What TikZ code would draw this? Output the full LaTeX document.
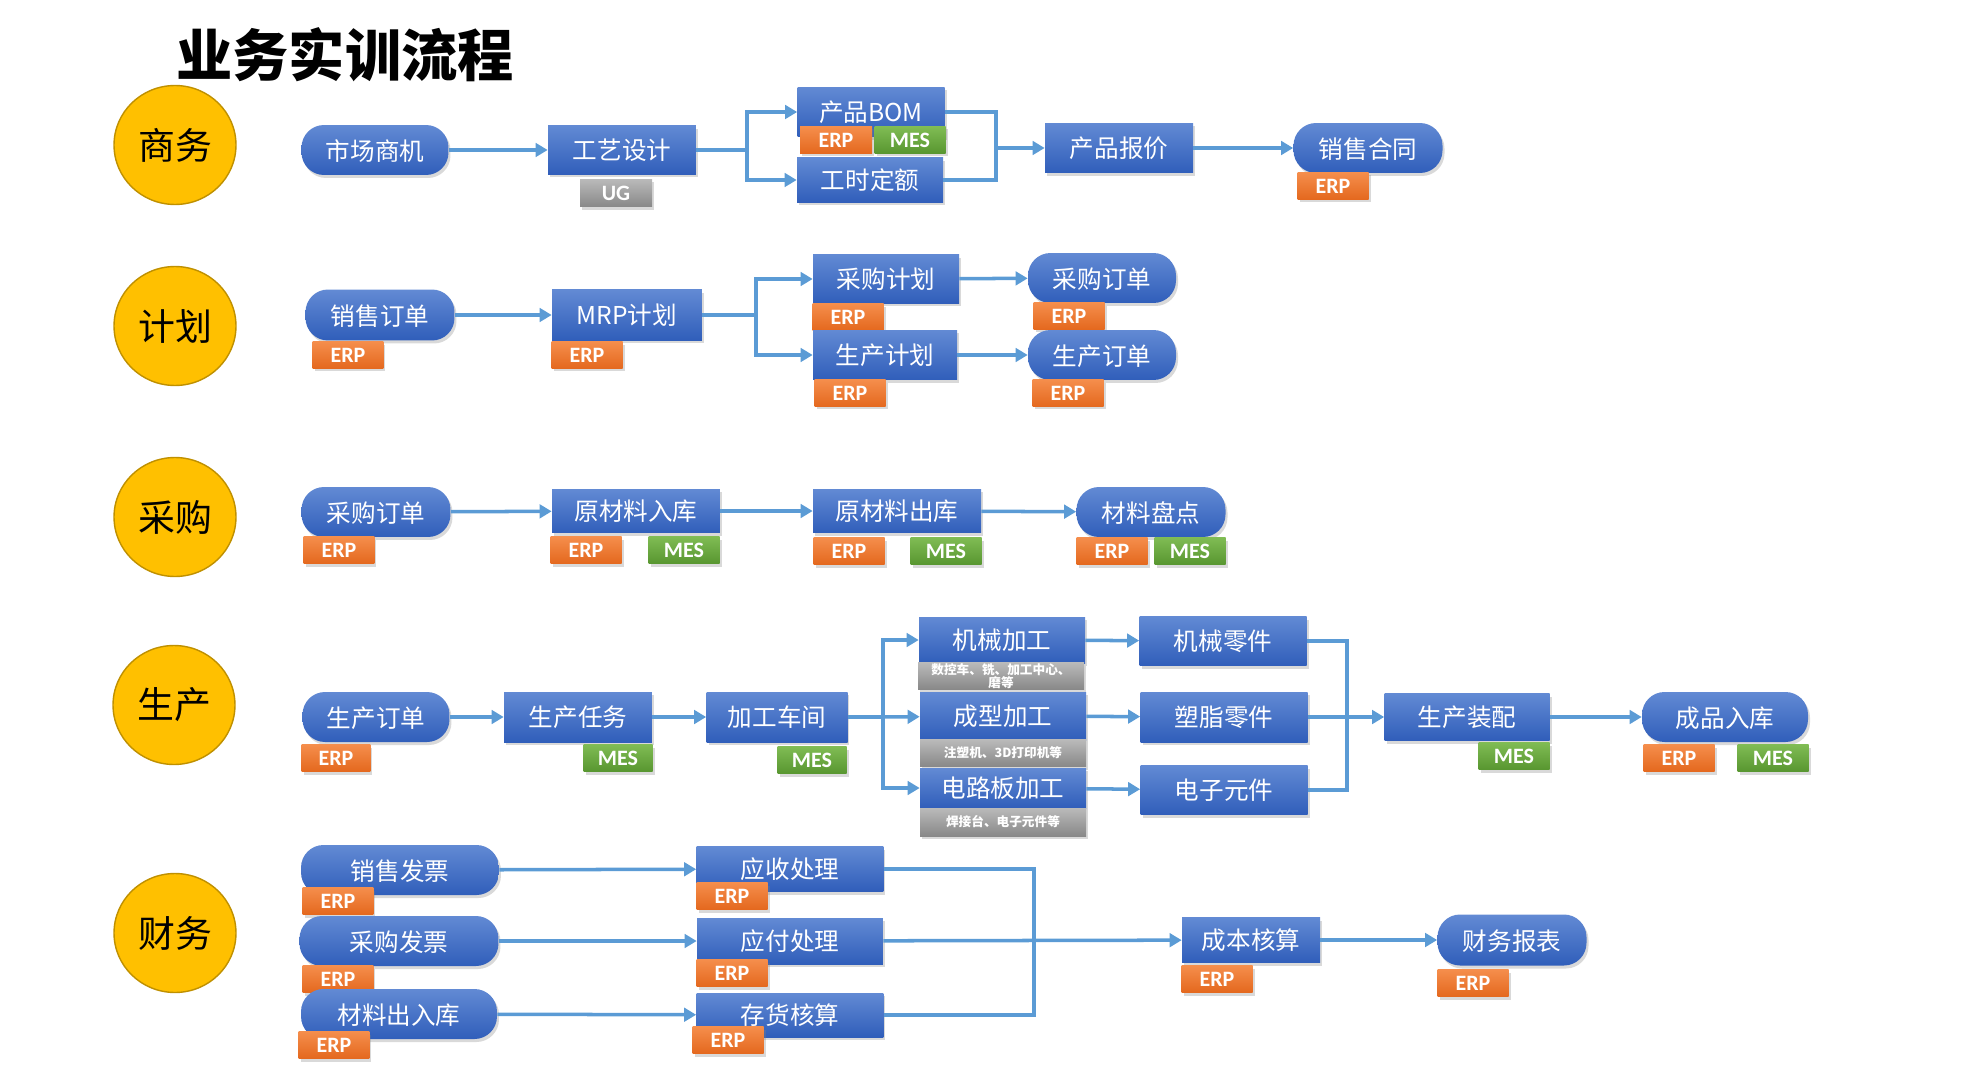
\documentclass[tikz,border=0pt]{standalone}
\usepackage{fontspec}
\usepackage{xcolor}
\usepackage{tikz}
\usetikzlibrary{positioning, arrows.meta, shapes.geometric, shadows}

\newfontfamily\cjk{Noto Sans CJK SC}
\newfontfamily\tagfont{Carlito}

\definecolor{boxtop}{RGB}{98,138,212}
\definecolor{boxbot}{RGB}{48,94,186}
\definecolor{erptop}{RGB}{245,142,76}
\definecolor{erpbot}{RGB}{228,104,30}
\definecolor{mestop}{RGB}{128,188,84}
\definecolor{mesbot}{RGB}{88,150,48}
\definecolor{graytop}{RGB}{186,186,186}
\definecolor{graybot}{RGB}{136,136,136}
\definecolor{flowblue}{RGB}{91,155,213}
\definecolor{gold}{RGB}{255,192,0}
\definecolor{golddark}{RGB}{191,144,0}

\begin{document}
\begin{tikzpicture}[
    x=0.02cm, y=-0.02cm,
    softshadow/.style={drop shadow={opacity=0.3, shadow xshift=0.04cm, shadow yshift=-0.06cm}},
    domainnode/.style={ellipse, fill=gold, draw=golddark, line width=0.8pt, minimum width=2.44cm, minimum height=2.38cm, inner sep=0pt, font=\cjk\fontsize{21}{24}\selectfont},
    stepbox/.style={rectangle, top color=boxtop, bottom color=boxbot, draw=none, text=white, minimum width=2.96cm, minimum height=0.98cm, inner sep=0pt, font=\cjk\fontsize{14}{16}\selectfont, softshadow},
    pillbox/.style={stepbox, rounded corners=0.45cm, minimum height=1.0cm, text height=1.2em, text depth=0.04em},
    tagbox/.style={rectangle, draw=none, text=white, minimum width=1.42cm, minimum height=0.54cm, inner sep=0pt, font=\tagfont\bfseries\fontsize{12.5}{13}\selectfont, softshadow},
    erptag/.style={tagbox, top color=erptop, bottom color=erpbot},
    mestag/.style={tagbox, top color=mestop, bottom color=mesbot},
    ugtag/.style={tagbox, top color=graytop, bottom color=graybot, minimum width=1.44cm, minimum height=0.56cm},
    notetag/.style={rectangle, top color=graytop, bottom color=graybot, draw=none, text=white, minimum width=3.32cm, minimum height=0.54cm, inner sep=0pt, align=center, font=\cjk\bfseries\fontsize{7.2}{7.6}\selectfont, softshadow},
    flowline/.style={draw=flowblue, line width=2pt},
    flowarrow/.style={flowline, -{Triangle[length=0.24cm, width=0.27cm]}},
    titletext/.style={font=\cjk\bfseries\fontsize{32}{36}\selectfont}
]
\useasboundingbox (0,0) rectangle (1986,1084);

% Title
\node[titletext] (title) at (345,55) {业务实训流程};

% Domain circles
\node[domainnode] (dom1) at (175,145) {商务};
\node[domainnode] (dom2) at (175,326) {计划};
\node[domainnode] (dom3) at (175,517) {采购};
\node[domainnode] (dom4) at (174,705) {生产};
\node[domainnode] (dom5) at (175,933) {财务};

% Row 1: business
\node[pillbox, minimum width=2.94cm] (scsj) at (375,150) {市场商机};
\node[stepbox] (gysj) at (622,150) {工艺设计};
\node[ugtag] (gysjug) at (616,193) {UG};
\node[stepbox, minimum width=2.94cm, minimum height=1.0cm] (bom) at (871,112) {产品BOM};
\node[erptag, minimum width=1.44cm] (bomerp) at (836,140) {ERP};
\node[mestag] (bommes) at (910,140) {MES};
\node[stepbox, minimum width=2.92cm, minimum height=0.9cm] (gsde) at (870,180) {工时定额};
\node[stepbox, minimum height=1.0cm] (cpbj) at (1119,148) {产品报价};
\node[pillbox, minimum width=2.98cm] (xsht) at (1368,148) {销售合同};
\node[erptag] (xshterp) at (1333,186) {ERP};

% Row 2: planning
\node[pillbox, minimum width=2.98cm, minimum height=1.02cm] (xsdd) at (380,315) {销售订单};
\node[erptag] (xsdderp) at (348,355) {ERP};
\node[stepbox, minimum width=3.0cm, minimum height=1.02cm] (mrp) at (627,315) {MRP计划};
\node[erptag] (mrperp) at (587,355) {ERP};
\node[stepbox, minimum width=2.92cm] (cgjh) at (886,279) {采购计划};
\node[erptag] (cgjherp) at (848,317) {ERP};
\node[stepbox, minimum width=2.88cm, minimum height=1.0cm] (scjh) at (885,355) {生产计划};
\node[erptag] (scjherp) at (850,393) {ERP};
\node[pillbox] (cgdd) at (1102,278) {采购订单};
\node[erptag] (cgdderp) at (1069,316) {ERP};
\node[pillbox] (scdd) at (1102,355) {生产订单};
\node[erptag] (scdderp) at (1068,393) {ERP};

% Row 3: purchasing
\node[pillbox, minimum width=2.98cm] (cgdd2) at (376,512) {采购订单};
\node[erptag] (cgdd2erp) at (339,550) {ERP};
\node[stepbox, minimum width=3.36cm, minimum height=0.88cm] (ycrk) at (636,511) {原材料入库};
\node[erptag] (ycrkerp) at (586,550) {ERP};
\node[mestag] (ycrkmes) at (684,550) {MES};
\node[stepbox, minimum width=3.36cm, minimum height=0.88cm] (ycck) at (897,511) {原材料出库};
\node[erptag] (ycckerp) at (849,551) {ERP};
\node[mestag] (ycckmes) at (946,551) {MES};
\node[pillbox, minimum width=2.98cm] (clpd) at (1151,512) {材料盘点};
\node[erptag] (clpderp) at (1112,551) {ERP};
\node[mestag] (clpdmes) at (1190,551) {MES};

% Row 4: production
\node[pillbox, minimum width=2.94cm] (scdd3) at (376,717) {生产订单};
\node[erptag, minimum width=1.38cm] (scdd3erp) at (336,758) {ERP};
\node[stepbox, minimum height=1.0cm] (scrw) at (578,717) {生产任务};
\node[mestag, minimum width=1.38cm] (scrwmes) at (618,758) {MES};
\node[stepbox, minimum width=2.82cm, minimum height=1.0cm] (jgcj) at (777,717) {加工车间};
\node[mestag, minimum width=1.38cm] (jgcjmes) at (812,760) {MES};
\node[stepbox, minimum width=3.32cm, minimum height=0.92cm] (jxjg) at (1002,640) {机械加工};
\node[notetag] (jxjgnote) at (1001,676) {数控车、铣、加工中心、\\磨等};
\node[stepbox, minimum width=3.32cm, minimum height=0.96cm] (cxjg) at (1003,716) {成型加工};
\node[notetag] (cxjgnote) at (1003,753) {注塑机、3D打印机等};
\node[stepbox, minimum width=3.32cm, minimum height=0.8cm] (dlb) at (1003,788) {电路板加工};
\node[notetag, minimum height=0.56cm] (dlbnote) at (1003,822) {焊接台、电子元件等};
\node[stepbox, minimum width=3.34cm] (jxlj) at (1223,641) {机械零件};
\node[stepbox, minimum width=3.34cm, minimum height=1.0cm] (szlj) at (1224,717) {塑脂零件};
\node[stepbox, minimum width=3.34cm] (dzyj) at (1224,790) {电子元件};
\node[stepbox, minimum width=3.3cm, minimum height=0.94cm] (sczp) at (1467,717) {生产装配};
\node[mestag] (sczpmes) at (1514,756) {MES};
\node[pillbox, minimum width=3.32cm] (cprk) at (1725,717) {成品入库};
\node[erptag] (cprkerp) at (1679,758) {ERP};
\node[mestag] (cprkmes) at (1773,758) {MES};

% Row 5: finance
\node[pillbox, minimum width=3.96cm] (xsfp) at (400,870) {销售发票};
\node[erptag] (xsfperp) at (338,901) {ERP};
\node[pillbox, minimum width=3.98cm] (cgfp) at (399,941) {采购发票};
\node[erptag] (cgfperp) at (338,979) {ERP};
\node[pillbox, minimum width=3.92cm] (clcrk) at (399,1014) {材料出入库};
\node[erptag] (clcrkerp) at (334,1045) {ERP};
\node[stepbox, minimum width=3.74cm, minimum height=0.9cm] (yscl) at (790,869) {应收处理};
\node[erptag] (ysclerp) at (732,896) {ERP};
\node[stepbox, minimum width=3.72cm, minimum height=0.92cm] (yfcl) at (790,941) {应付处理};
\node[erptag] (yfclerp) at (732,973) {ERP};
\node[stepbox, minimum width=3.74cm, minimum height=0.88cm] (chhs) at (790,1015) {存货核算};
\node[erptag] (chhserp) at (728,1040) {ERP};
\node[stepbox, minimum width=2.76cm, minimum height=0.9cm] (cbhs) at (1251,940) {成本核算};
\node[erptag] (cbhserp) at (1217,979) {ERP};
\node[pillbox, minimum width=2.98cm, minimum height=1.02cm] (cwbb) at (1512,940) {财务报表};
\node[erptag] (cwbberp) at (1473,983) {ERP};

% Branch and merge points
\coordinate (s1) at (747,150);
\coordinate (m1) at (996,148);
\coordinate (s2) at (756,315);
\coordinate (s3) at (883,717);
\coordinate (m2) at (1347,717);
\coordinate (m3) at (1034,941);

% Connectors: row 1
\draw[flowarrow] (scsj) -- (gysj);
\draw[flowline] (gysj) -- (s1);
\draw[flowarrow] (s1) |- (bom);
\draw[flowarrow] (s1) |- (gsde);
\draw[flowline] (bom) -| (m1);
\draw[flowline] (gsde) -| (m1);
\draw[flowarrow] (m1) -- (cpbj);
\draw[flowarrow] (cpbj) -- (xsht);

% Connectors: row 2
\draw[flowarrow] (xsdd) -- (mrp);
\draw[flowline] (mrp) -- (s2);
\draw[flowarrow] (s2) |- (cgjh);
\draw[flowarrow] (s2) |- (scjh);
\draw[flowarrow] (cgjh) -- (cgdd);
\draw[flowarrow] (scjh) -- (scdd);

% Connectors: row 3
\draw[flowarrow] (cgdd2) -- (ycrk);
\draw[flowarrow] (ycrk) -- (ycck);
\draw[flowarrow] (ycck) -- (clpd);

% Connectors: row 4
\draw[flowarrow] (scdd3) -- (scrw);
\draw[flowarrow] (scrw) -- (jgcj);
\draw[flowline] (jgcj) -- (s3);
\draw[flowarrow] (s3) |- (jxjg);
\draw[flowarrow] (s3) -- (cxjg);
\draw[flowarrow] (s3) |- (dlb);
\draw[flowarrow] (jxjg) -- (jxlj);
\draw[flowarrow] (cxjg) -- (szlj);
\draw[flowarrow] (dlb) -- (dzyj);
\draw[flowline] (jxlj) -| (m2);
\draw[flowline] (dzyj) -| (m2);
\draw[flowarrow] (szlj) -- (sczp);
\draw[flowarrow] (sczp) -- (cprk);

% Connectors: row 5
\draw[flowarrow] (xsfp) -- (yscl);
\draw[flowarrow] (cgfp) -- (yfcl);
\draw[flowarrow] (clcrk) -- (chhs);
\draw[flowline] (yscl) -| (m3);
\draw[flowline] (chhs) -| (m3);
\draw[flowarrow] (yfcl) -- (cbhs);
\draw[flowarrow] (cbhs) -- (cwbb);

\end{tikzpicture}
\end{document}
